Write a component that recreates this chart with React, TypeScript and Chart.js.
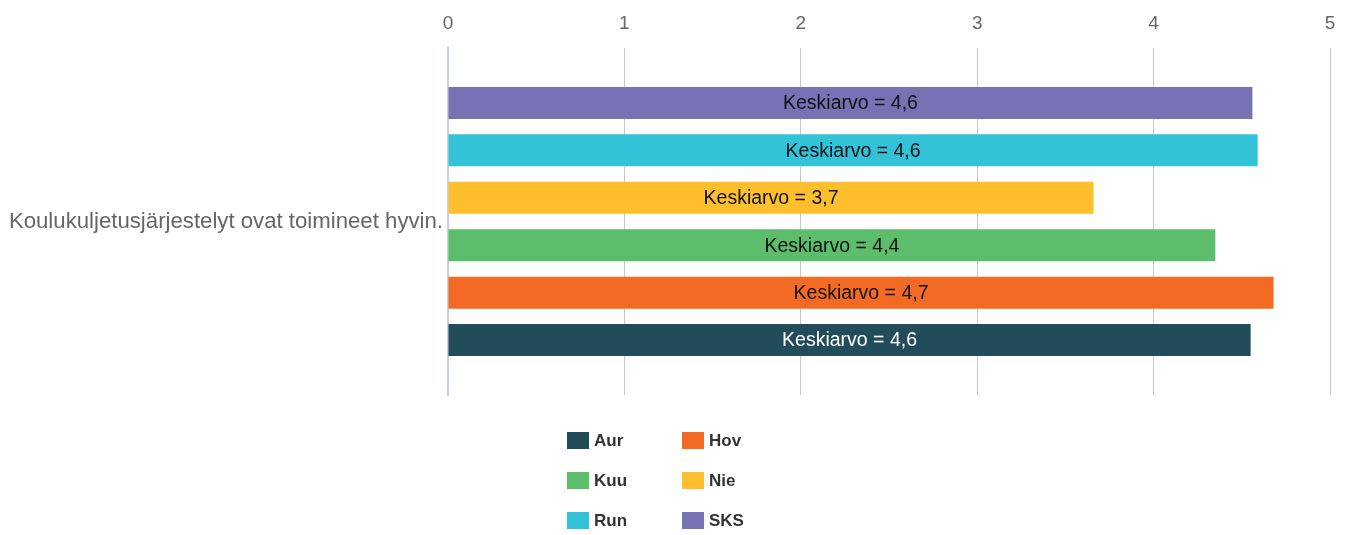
import React, { useEffect, useRef } from "react";
import { Chart, registerables } from "chart.js";

Chart.register(...registerables);

const categories = ["Koulukuljetusjärjestelyt ovat toimineet hyvin."];
// drawn top to bottom
const seriesNames = ["SKS", "Run", "Nie", "Kuu", "Hov", "Aur"];
const seriesValues = [4.56, 4.59, 3.66, 4.35, 4.68, 4.55];
const meanLabels = ["4,6", "4,6", "3,7", "4,4", "4,7", "4,6"];
const seriesColors = ["#7672b4", "#33c3d8", "#fdbf2d", "#5cbd6b", "#f26a24", "#234c5a"];
const labelColors = ["#111111", "#111111", "#111111", "#111111", "#111111", "#ffffff"];
const legendOrder = ["Aur", "Hov", "Kuu", "Nie", "Run", "SKS"];
const xTicks = [0, 1, 2, 3, 4, 5];

const FONT = '"Liberation Sans", Arial, Helvetica, sans-serif';

const valueLabelPlugin = {
  id: "valueLabels",
  afterDatasetsDraw(chart: any) {
    const ctx = chart.ctx;
    ctx.save();
    ctx.font = `19.5px ${FONT}`;
    ctx.textAlign = "center";
    ctx.textBaseline = "middle";
    chart.data.datasets.forEach((ds: any, i: number) => {
      const meta = chart.getDatasetMeta(i);
      meta.data.forEach((bar: any) => {
        const cx = (bar.x + bar.base) / 2;
        ctx.fillStyle = labelColors[i];
        ctx.fillText(`Keskiarvo = ${meanLabels[i]}`, cx, bar.y + 1);
      });
    });
    ctx.restore();
  },
};

export default function App() {
  const ref = useRef<HTMLCanvasElement>(null);

  useEffect(() => {
    if (!ref.current) return;
    const chart = new Chart(ref.current, {
      type: "bar",
      data: {
        labels: categories,
        datasets: seriesNames.map((name, i) => ({
          label: name,
          data: [seriesValues[i]],
          backgroundColor: seriesColors[i],
          borderWidth: 0,
          categoryPercentage: 0.82,
          barPercentage: 0.675,
        })),
      },
      options: {
        indexAxis: "y",
        animation: false,
        responsive: false,
        maintainAspectRatio: false,
        layout: { padding: { top: 0, left: 0, right: 18, bottom: 140 } },
        plugins: {
          legend: { display: false },
          tooltip: { enabled: false },
        },
        scales: {
          x: {
            position: "top",
            min: 0,
            max: 5,
            afterFit: (scale: any) => {
              scale.height = 48;
              scale.paddingLeft = 0;
              scale.paddingRight = 0;
            },
            afterBuildTicks: (scale: any) => {
              scale.ticks = xTicks.map((v) => ({ value: v }));
            },
            grid: {
              color: "#c8c8c8",
              lineWidth: 1,
              drawTicks: false,
            },
            border: { display: false },
            ticks: {
              color: "#666666",
              font: { family: FONT, size: 19 },
              padding: 13,
            },
          },
          y: {
            afterFit: (scale: any) => {
              scale.width = 448;
              scale.paddingTop = 0;
              scale.paddingBottom = 0;
            },
            grid: { display: false, drawTicks: false },
            border: { display: true, color: "#c4d0de", width: 2 },
            ticks: {
              color: "#666666",
              font: { family: FONT, size: 22.2 },
              padding: 5,
            },
          },
        },
      },
      plugins: [valueLabelPlugin],
    } as any);
    return () => chart.destroy();
  }, []);

  const rows = [0, 1, 2];
  return (
    <div style={{ position: "absolute", left: 0, top: 0, width: 1348, height: 535, background: "#fff" }}>
      <canvas ref={ref} width={1348} height={535} style={{ position: "absolute", left: 0, top: 0 }} />
      {legendOrder.map((name, k) => {
        const col = k % 2;
        const row = Math.floor(k / 2);
        const idx = seriesNames.indexOf(name);
        const left = col === 0 ? 567 : 682;
        const top = 432 + rows[row] * 40;
        return (
          <div key={name} style={{ position: "absolute", left, top, height: 17, display: "flex", alignItems: "center" }}>
            <div style={{ width: 22, height: 17, background: seriesColors[idx] }} />
            <span
              style={{
                marginLeft: 5,
                fontFamily: FONT,
                fontWeight: "bold",
                fontSize: 17,
                color: "#333333",
                lineHeight: "17px",
              }}
            >
              {name}
            </span>
          </div>
        );
      })}
    </div>
  );
}
